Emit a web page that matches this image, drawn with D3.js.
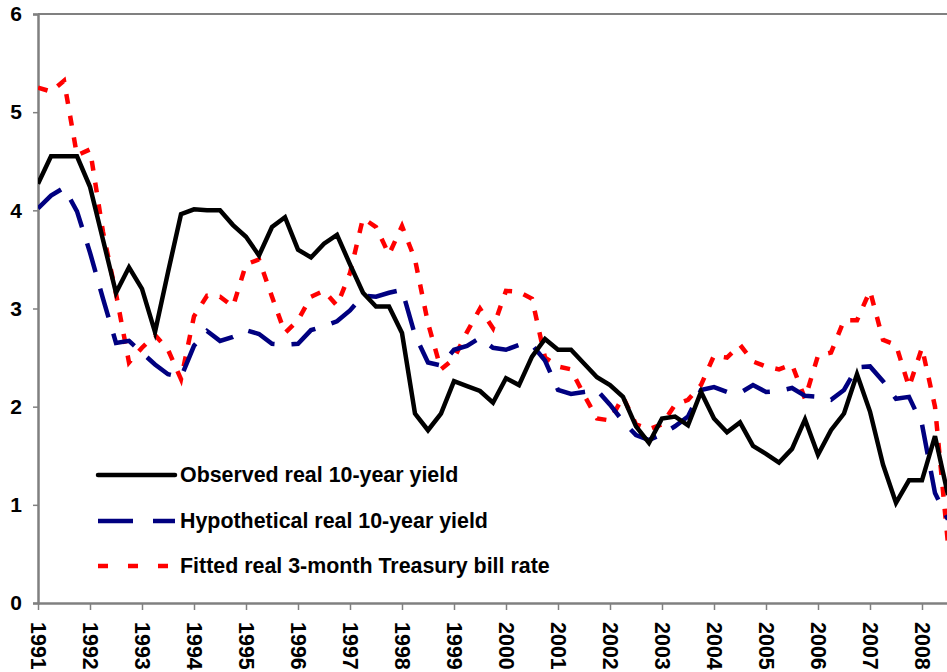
<!DOCTYPE html>
<html>
<head>
<meta charset="utf-8">
<script src="https://cdn.jsdelivr.net/npm/d3@7"></script>
<style>
  body { margin: 0; background: #fff; }
  text { font-family: "Liberation Sans", Arial, sans-serif; font-weight: bold; }
</style>
</head>
<body>
<div id="my_dataviz"></div>
<script>
// tick labels
var yearTicks = [1991, 1992, 1993, 1994, 1995, 1996, 1997, 1998, 1999, 2000,
                 2001, 2002, 2003, 2004, 2005, 2006, 2007, 2008];
var yTicks = [0, 1, 2, 3, 4, 5, 6];

// quarterly series starting 1991Q1
var observed = [4.27, 4.55, 4.55, 4.55, 4.24, 3.70, 3.16, 3.42, 3.20, 2.76,
                3.37, 3.96, 4.01, 4.00, 4.00, 3.85, 3.73, 3.54, 3.83, 3.93,
                3.60, 3.52, 3.66, 3.75, 3.45, 3.16, 3.02, 3.02, 2.75, 1.93,
                1.76, 1.93, 2.26, 2.21, 2.16, 2.04, 2.29, 2.22, 2.51, 2.69,
                2.58, 2.58, 2.44, 2.30, 2.22, 2.10, 1.80, 1.63, 1.88, 1.90,
                1.81, 2.15, 1.88, 1.74, 1.84, 1.60, 1.52, 1.43, 1.57, 1.87,
                1.51, 1.76, 1.93, 2.33, 1.95, 1.41, 1.02, 1.25, 1.25, 1.70,
                1.10];
var hypothetical = [4.02, 4.15, 4.23, 3.99, 3.57, 3.10, 2.65, 2.67, 2.55, 2.43,
                    2.33, 2.30, 2.62, 2.77, 2.67, 2.71, 2.78, 2.74, 2.64, 2.63,
                    2.64, 2.78, 2.82, 2.87, 2.98, 3.13, 3.12, 3.16, 3.19, 2.73,
                    2.45, 2.42, 2.58, 2.62, 2.70, 2.60, 2.58, 2.63, 2.63, 2.47,
                    2.17, 2.13, 2.15, 2.17, 2.02, 1.85, 1.71, 1.66, 1.72, 1.80,
                    1.90, 2.17, 2.20, 2.15, 2.14, 2.22, 2.15, 2.16, 2.19, 2.11,
                    2.10, 2.07, 2.17, 2.40, 2.41, 2.26, 2.08, 2.10, 1.82, 1.12,
                    0.85];
var fitted = [5.25, 5.21, 5.32, 4.56, 4.62, 3.78, 3.15, 2.45, 2.60, 2.73,
              2.58, 2.28, 2.92, 3.13, 3.12, 3.02, 3.45, 3.50, 3.12, 2.75,
              2.88, 3.12, 3.18, 3.03, 3.36, 3.92, 3.83, 3.55, 3.84, 3.50,
              2.85, 2.38, 2.49, 2.76, 3.00, 2.80, 3.18, 3.17, 3.10, 2.50,
              2.41, 2.38, 2.12, 1.88, 1.86, 2.10, 1.82, 1.77, 1.82, 2.02,
              2.07, 2.22, 2.52, 2.50, 2.63, 2.46, 2.41, 2.38, 2.43, 2.08,
              2.52, 2.55, 2.88, 2.88, 3.18, 2.68, 2.63, 2.20, 2.60, 2.00,
              0.60];

var seriesNames = ["Observed real 10-year yield",
                   "Hypothetical real 10-year yield",
                   "Fitted real 3-month Treasury bill rate"];

var W = 947, H = 672;
var mLeft = 38, mTop = 14, mBottom = 603;

var svg = d3.select("#my_dataviz")
  .append("svg")
    .attr("width", W)
    .attr("height", H);

// scales: one year = 52px, plot runs past the right edge of the picture
var x = d3.scaleLinear()
  .domain([1991, 2009])
  .range([mLeft, mLeft + 18 * 52]);
var y = d3.scaleLinear()
  .domain([0, 6])
  .range([mBottom, mTop]);

var grey = "#808080";

// top border
svg.append("line")
  .attr("x1", mLeft).attr("x2", W)
  .attr("y1", y(6)).attr("y2", y(6))
  .style("stroke", grey).style("stroke-width", 2);

// Y axis
var yAxis = svg.append("g")
  .attr("transform", "translate(" + mLeft + ",0)")
  .call(d3.axisLeft(y).tickValues(yTicks).tickSize(5).tickPadding(11).tickFormat(d3.format("d")));
yAxis.select(".domain").style("stroke", grey).style("stroke-width", 2.5);
yAxis.selectAll(".tick line").style("stroke", grey).style("stroke-width", 1.5);
yAxis.selectAll("text")
  .style("font-size", "21px")
  .style("fill", "#000")
  .style("font-family", "Liberation Sans, Arial, sans-serif")
  .style("font-weight", "bold");

// X axis
var xAxis = svg.append("g")
  .attr("transform", "translate(0," + mBottom + ")")
  .call(d3.axisBottom(x).tickValues(yearTicks).tickSize(7).tickSizeOuter(0).tickFormat(d3.format("d")));
xAxis.select(".domain").style("stroke", grey).style("stroke-width", 2.5);
xAxis.selectAll(".tick line").style("stroke", grey).style("stroke-width", 1.5);
xAxis.selectAll("text")
  .attr("transform", "rotate(90)")
  .attr("x", 19)
  .attr("y", 0)
  .attr("dy", "0.35em")
  .style("text-anchor", "start")
  .style("font-size", "21.5px")
  .style("fill", "#000")
  .style("font-family", "Liberation Sans, Arial, sans-serif")
  .style("font-weight", "bold");

// clip lines to the plot area
svg.append("clipPath").attr("id", "plotclip")
  .append("rect")
    .attr("x", mLeft).attr("y", 0)
    .attr("width", W - mLeft).attr("height", mBottom);

var line = d3.line()
  .x(function(d, i) { return x(1991 + i / 4); })
  .y(function(d) { return y(d); });

var styles = [
  {data: observed, color: "#000000", width: 4.5, dash: null, legendDash: null},
  {data: hypothetical, color: "#000080", width: 4.5, dash: "30,17", legendDash: "35,20"},
  {data: fitted, color: "#FF0000", width: 4.5, dash: "10,12", legendDash: "10,20"}
];

var plot = svg.append("g").attr("clip-path", "url(#plotclip)");

// draw fitted first, then hypothetical, observed on top
[2, 1, 0].forEach(function(k) {
  var s = styles[k];
  plot.append("path")
    .datum(s.data)
    .attr("d", line)
    .style("fill", "none")
    .style("stroke", s.color)
    .style("stroke-width", s.width)
    .style("stroke-linejoin", "miter")
    .style("stroke-dasharray", s.dash);
});

// legend
var legendY = [475, 521, 566];
styles.forEach(function(s, k) {
  svg.append("line")
    .attr("x1", 98).attr("x2", 175)
    .attr("y1", legendY[k]).attr("y2", legendY[k])
    .style("stroke", s.color)
    .style("stroke-width", 4.5)
    .style("stroke-linecap", k == 0 ? "round" : "butt")
    .style("stroke-dasharray", s.legendDash);
  svg.append("text")
    .attr("x", 180)
    .attr("y", legendY[k])
    .attr("dy", "0.35em")
    .style("font-size", "21.4px")
    .style("fill", "#000")
    .text(seriesNames[k]);
});
</script>
</body>
</html>
